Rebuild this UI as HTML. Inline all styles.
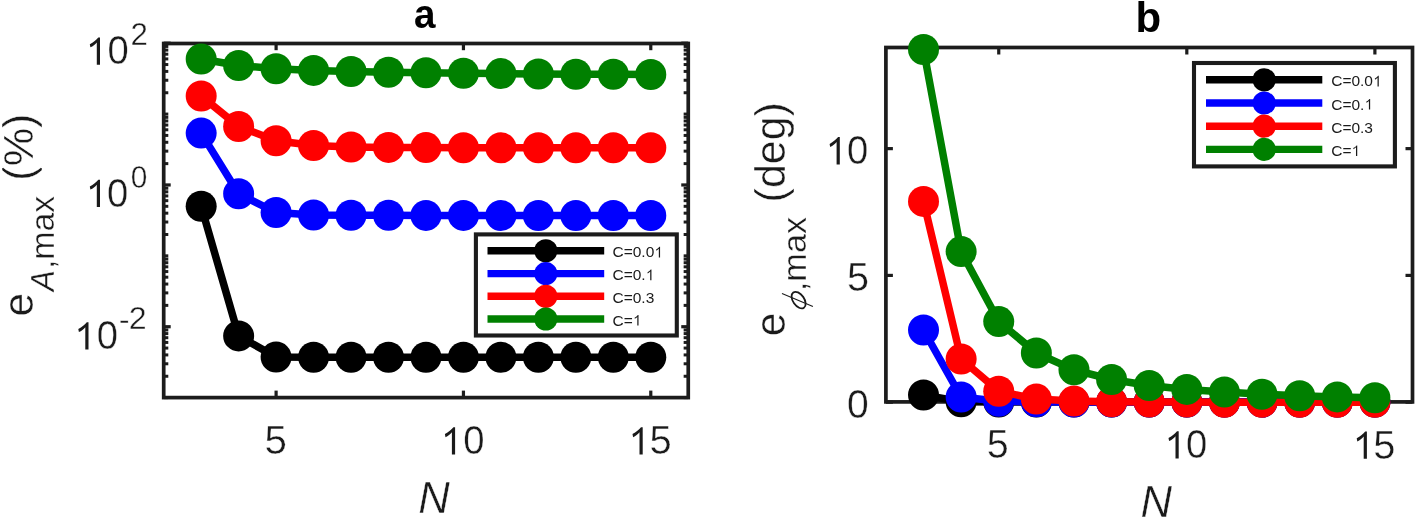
<!DOCTYPE html><html><head><meta charset="utf-8"><style>html,body{margin:0;padding:0;background:#fff;overflow:hidden}svg{display:block;will-change:transform} text.t{stroke:#fff;stroke-width:0.4px}</style></head><body><svg width="1416" height="520" viewBox="0 0 1416 520" font-family="Liberation Sans, sans-serif">
<rect width="1416" height="520" fill="#fff"/>
<line x1="276.10" y1="397.6" x2="276.10" y2="390.6" stroke="#1c1c1c" stroke-width="3.2"/>
<line x1="276.10" y1="43.2" x2="276.10" y2="50.2" stroke="#1c1c1c" stroke-width="3.2"/>
<line x1="463.44" y1="397.6" x2="463.44" y2="390.6" stroke="#1c1c1c" stroke-width="3.2"/>
<line x1="463.44" y1="43.2" x2="463.44" y2="50.2" stroke="#1c1c1c" stroke-width="3.2"/>
<line x1="650.78" y1="397.6" x2="650.78" y2="390.6" stroke="#1c1c1c" stroke-width="3.2"/>
<line x1="650.78" y1="43.2" x2="650.78" y2="50.2" stroke="#1c1c1c" stroke-width="3.2"/>
<line x1="163.7" y1="326.72" x2="170.7" y2="326.72" stroke="#1c1c1c" stroke-width="3.2"/>
<line x1="688.25" y1="326.72" x2="681.25" y2="326.72" stroke="#1c1c1c" stroke-width="3.2"/>
<line x1="163.7" y1="184.96" x2="170.7" y2="184.96" stroke="#1c1c1c" stroke-width="3.2"/>
<line x1="688.25" y1="184.96" x2="681.25" y2="184.96" stroke="#1c1c1c" stroke-width="3.2"/>
<line x1="163.7" y1="43.20" x2="170.7" y2="43.20" stroke="#1c1c1c" stroke-width="3.2"/>
<line x1="688.25" y1="43.20" x2="681.25" y2="43.20" stroke="#1c1c1c" stroke-width="3.2"/>
<line x1="163.7" y1="376.26" x2="168.29999999999998" y2="376.26" stroke="#1c1c1c" stroke-width="3.0"/>
<line x1="688.25" y1="376.26" x2="683.65" y2="376.26" stroke="#1c1c1c" stroke-width="3.0"/>
<line x1="163.7" y1="363.78" x2="168.29999999999998" y2="363.78" stroke="#1c1c1c" stroke-width="3.0"/>
<line x1="688.25" y1="363.78" x2="683.65" y2="363.78" stroke="#1c1c1c" stroke-width="3.0"/>
<line x1="163.7" y1="354.93" x2="168.29999999999998" y2="354.93" stroke="#1c1c1c" stroke-width="3.0"/>
<line x1="688.25" y1="354.93" x2="683.65" y2="354.93" stroke="#1c1c1c" stroke-width="3.0"/>
<line x1="163.7" y1="348.06" x2="168.29999999999998" y2="348.06" stroke="#1c1c1c" stroke-width="3.0"/>
<line x1="688.25" y1="348.06" x2="683.65" y2="348.06" stroke="#1c1c1c" stroke-width="3.0"/>
<line x1="163.7" y1="342.44" x2="168.29999999999998" y2="342.44" stroke="#1c1c1c" stroke-width="3.0"/>
<line x1="688.25" y1="342.44" x2="683.65" y2="342.44" stroke="#1c1c1c" stroke-width="3.0"/>
<line x1="163.7" y1="337.70" x2="168.29999999999998" y2="337.70" stroke="#1c1c1c" stroke-width="3.0"/>
<line x1="688.25" y1="337.70" x2="683.65" y2="337.70" stroke="#1c1c1c" stroke-width="3.0"/>
<line x1="163.7" y1="333.59" x2="168.29999999999998" y2="333.59" stroke="#1c1c1c" stroke-width="3.0"/>
<line x1="688.25" y1="333.59" x2="683.65" y2="333.59" stroke="#1c1c1c" stroke-width="3.0"/>
<line x1="163.7" y1="329.96" x2="168.29999999999998" y2="329.96" stroke="#1c1c1c" stroke-width="3.0"/>
<line x1="688.25" y1="329.96" x2="683.65" y2="329.96" stroke="#1c1c1c" stroke-width="3.0"/>
<line x1="163.7" y1="305.38" x2="168.29999999999998" y2="305.38" stroke="#1c1c1c" stroke-width="3.0"/>
<line x1="688.25" y1="305.38" x2="683.65" y2="305.38" stroke="#1c1c1c" stroke-width="3.0"/>
<line x1="163.7" y1="292.90" x2="168.29999999999998" y2="292.90" stroke="#1c1c1c" stroke-width="3.0"/>
<line x1="688.25" y1="292.90" x2="683.65" y2="292.90" stroke="#1c1c1c" stroke-width="3.0"/>
<line x1="163.7" y1="284.05" x2="168.29999999999998" y2="284.05" stroke="#1c1c1c" stroke-width="3.0"/>
<line x1="688.25" y1="284.05" x2="683.65" y2="284.05" stroke="#1c1c1c" stroke-width="3.0"/>
<line x1="163.7" y1="277.18" x2="168.29999999999998" y2="277.18" stroke="#1c1c1c" stroke-width="3.0"/>
<line x1="688.25" y1="277.18" x2="683.65" y2="277.18" stroke="#1c1c1c" stroke-width="3.0"/>
<line x1="163.7" y1="271.56" x2="168.29999999999998" y2="271.56" stroke="#1c1c1c" stroke-width="3.0"/>
<line x1="688.25" y1="271.56" x2="683.65" y2="271.56" stroke="#1c1c1c" stroke-width="3.0"/>
<line x1="163.7" y1="266.82" x2="168.29999999999998" y2="266.82" stroke="#1c1c1c" stroke-width="3.0"/>
<line x1="688.25" y1="266.82" x2="683.65" y2="266.82" stroke="#1c1c1c" stroke-width="3.0"/>
<line x1="163.7" y1="262.71" x2="168.29999999999998" y2="262.71" stroke="#1c1c1c" stroke-width="3.0"/>
<line x1="688.25" y1="262.71" x2="683.65" y2="262.71" stroke="#1c1c1c" stroke-width="3.0"/>
<line x1="163.7" y1="259.08" x2="168.29999999999998" y2="259.08" stroke="#1c1c1c" stroke-width="3.0"/>
<line x1="688.25" y1="259.08" x2="683.65" y2="259.08" stroke="#1c1c1c" stroke-width="3.0"/>
<line x1="163.7" y1="234.50" x2="168.29999999999998" y2="234.50" stroke="#1c1c1c" stroke-width="3.0"/>
<line x1="688.25" y1="234.50" x2="683.65" y2="234.50" stroke="#1c1c1c" stroke-width="3.0"/>
<line x1="163.7" y1="222.02" x2="168.29999999999998" y2="222.02" stroke="#1c1c1c" stroke-width="3.0"/>
<line x1="688.25" y1="222.02" x2="683.65" y2="222.02" stroke="#1c1c1c" stroke-width="3.0"/>
<line x1="163.7" y1="213.17" x2="168.29999999999998" y2="213.17" stroke="#1c1c1c" stroke-width="3.0"/>
<line x1="688.25" y1="213.17" x2="683.65" y2="213.17" stroke="#1c1c1c" stroke-width="3.0"/>
<line x1="163.7" y1="206.30" x2="168.29999999999998" y2="206.30" stroke="#1c1c1c" stroke-width="3.0"/>
<line x1="688.25" y1="206.30" x2="683.65" y2="206.30" stroke="#1c1c1c" stroke-width="3.0"/>
<line x1="163.7" y1="200.68" x2="168.29999999999998" y2="200.68" stroke="#1c1c1c" stroke-width="3.0"/>
<line x1="688.25" y1="200.68" x2="683.65" y2="200.68" stroke="#1c1c1c" stroke-width="3.0"/>
<line x1="163.7" y1="195.94" x2="168.29999999999998" y2="195.94" stroke="#1c1c1c" stroke-width="3.0"/>
<line x1="688.25" y1="195.94" x2="683.65" y2="195.94" stroke="#1c1c1c" stroke-width="3.0"/>
<line x1="163.7" y1="191.83" x2="168.29999999999998" y2="191.83" stroke="#1c1c1c" stroke-width="3.0"/>
<line x1="688.25" y1="191.83" x2="683.65" y2="191.83" stroke="#1c1c1c" stroke-width="3.0"/>
<line x1="163.7" y1="188.20" x2="168.29999999999998" y2="188.20" stroke="#1c1c1c" stroke-width="3.0"/>
<line x1="688.25" y1="188.20" x2="683.65" y2="188.20" stroke="#1c1c1c" stroke-width="3.0"/>
<line x1="163.7" y1="163.62" x2="168.29999999999998" y2="163.62" stroke="#1c1c1c" stroke-width="3.0"/>
<line x1="688.25" y1="163.62" x2="683.65" y2="163.62" stroke="#1c1c1c" stroke-width="3.0"/>
<line x1="163.7" y1="151.14" x2="168.29999999999998" y2="151.14" stroke="#1c1c1c" stroke-width="3.0"/>
<line x1="688.25" y1="151.14" x2="683.65" y2="151.14" stroke="#1c1c1c" stroke-width="3.0"/>
<line x1="163.7" y1="142.29" x2="168.29999999999998" y2="142.29" stroke="#1c1c1c" stroke-width="3.0"/>
<line x1="688.25" y1="142.29" x2="683.65" y2="142.29" stroke="#1c1c1c" stroke-width="3.0"/>
<line x1="163.7" y1="135.42" x2="168.29999999999998" y2="135.42" stroke="#1c1c1c" stroke-width="3.0"/>
<line x1="688.25" y1="135.42" x2="683.65" y2="135.42" stroke="#1c1c1c" stroke-width="3.0"/>
<line x1="163.7" y1="129.80" x2="168.29999999999998" y2="129.80" stroke="#1c1c1c" stroke-width="3.0"/>
<line x1="688.25" y1="129.80" x2="683.65" y2="129.80" stroke="#1c1c1c" stroke-width="3.0"/>
<line x1="163.7" y1="125.06" x2="168.29999999999998" y2="125.06" stroke="#1c1c1c" stroke-width="3.0"/>
<line x1="688.25" y1="125.06" x2="683.65" y2="125.06" stroke="#1c1c1c" stroke-width="3.0"/>
<line x1="163.7" y1="120.95" x2="168.29999999999998" y2="120.95" stroke="#1c1c1c" stroke-width="3.0"/>
<line x1="688.25" y1="120.95" x2="683.65" y2="120.95" stroke="#1c1c1c" stroke-width="3.0"/>
<line x1="163.7" y1="117.32" x2="168.29999999999998" y2="117.32" stroke="#1c1c1c" stroke-width="3.0"/>
<line x1="688.25" y1="117.32" x2="683.65" y2="117.32" stroke="#1c1c1c" stroke-width="3.0"/>
<line x1="163.7" y1="92.74" x2="168.29999999999998" y2="92.74" stroke="#1c1c1c" stroke-width="3.0"/>
<line x1="688.25" y1="92.74" x2="683.65" y2="92.74" stroke="#1c1c1c" stroke-width="3.0"/>
<line x1="163.7" y1="80.26" x2="168.29999999999998" y2="80.26" stroke="#1c1c1c" stroke-width="3.0"/>
<line x1="688.25" y1="80.26" x2="683.65" y2="80.26" stroke="#1c1c1c" stroke-width="3.0"/>
<line x1="163.7" y1="71.41" x2="168.29999999999998" y2="71.41" stroke="#1c1c1c" stroke-width="3.0"/>
<line x1="688.25" y1="71.41" x2="683.65" y2="71.41" stroke="#1c1c1c" stroke-width="3.0"/>
<line x1="163.7" y1="64.54" x2="168.29999999999998" y2="64.54" stroke="#1c1c1c" stroke-width="3.0"/>
<line x1="688.25" y1="64.54" x2="683.65" y2="64.54" stroke="#1c1c1c" stroke-width="3.0"/>
<line x1="163.7" y1="58.92" x2="168.29999999999998" y2="58.92" stroke="#1c1c1c" stroke-width="3.0"/>
<line x1="688.25" y1="58.92" x2="683.65" y2="58.92" stroke="#1c1c1c" stroke-width="3.0"/>
<line x1="163.7" y1="54.18" x2="168.29999999999998" y2="54.18" stroke="#1c1c1c" stroke-width="3.0"/>
<line x1="688.25" y1="54.18" x2="683.65" y2="54.18" stroke="#1c1c1c" stroke-width="3.0"/>
<line x1="163.7" y1="50.07" x2="168.29999999999998" y2="50.07" stroke="#1c1c1c" stroke-width="3.0"/>
<line x1="688.25" y1="50.07" x2="683.65" y2="50.07" stroke="#1c1c1c" stroke-width="3.0"/>
<line x1="163.7" y1="46.44" x2="168.29999999999998" y2="46.44" stroke="#1c1c1c" stroke-width="3.0"/>
<line x1="688.25" y1="46.44" x2="683.65" y2="46.44" stroke="#1c1c1c" stroke-width="3.0"/>
<line x1="163.7" y1="397.60" x2="168.29999999999998" y2="397.60" stroke="#1c1c1c" stroke-width="3.0"/>
<line x1="688.25" y1="397.60" x2="683.65" y2="397.60" stroke="#1c1c1c" stroke-width="3.0"/>
<line x1="163.7" y1="255.84" x2="168.29999999999998" y2="255.84" stroke="#1c1c1c" stroke-width="3.0"/>
<line x1="688.25" y1="255.84" x2="683.65" y2="255.84" stroke="#1c1c1c" stroke-width="3.0"/>
<line x1="163.7" y1="114.08" x2="168.29999999999998" y2="114.08" stroke="#1c1c1c" stroke-width="3.0"/>
<line x1="688.25" y1="114.08" x2="683.65" y2="114.08" stroke="#1c1c1c" stroke-width="3.0"/>
<rect x="163.7" y="43.5" width="524.55" height="354.10" fill="none" stroke="#1c1c1c" stroke-width="3.7"/>
<polyline points="201.17,206.30 238.64,335.90 276.10,357.10 313.57,357.30 351.04,357.30 388.51,357.30 425.97,357.30 463.44,357.30 500.91,357.30 538.38,357.30 575.85,357.30 613.31,357.30 650.78,357.30" fill="none" stroke="#000000" stroke-width="7.5" stroke-linejoin="round"/>
<circle cx="201.17" cy="206.30" r="15.5" fill="#000000"/>
<circle cx="238.64" cy="335.90" r="15.5" fill="#000000"/>
<circle cx="276.10" cy="357.10" r="15.5" fill="#000000"/>
<circle cx="313.57" cy="357.30" r="15.5" fill="#000000"/>
<circle cx="351.04" cy="357.30" r="15.5" fill="#000000"/>
<circle cx="388.51" cy="357.30" r="15.5" fill="#000000"/>
<circle cx="425.97" cy="357.30" r="15.5" fill="#000000"/>
<circle cx="463.44" cy="357.30" r="15.5" fill="#000000"/>
<circle cx="500.91" cy="357.30" r="15.5" fill="#000000"/>
<circle cx="538.38" cy="357.30" r="15.5" fill="#000000"/>
<circle cx="575.85" cy="357.30" r="15.5" fill="#000000"/>
<circle cx="613.31" cy="357.30" r="15.5" fill="#000000"/>
<circle cx="650.78" cy="357.30" r="15.5" fill="#000000"/>
<polyline points="201.17,133.10 238.64,193.75 276.10,212.50 313.57,215.00 351.04,215.20 388.51,215.30 425.97,215.40 463.44,215.40 500.91,215.50 538.38,215.50 575.85,215.50 613.31,215.50 650.78,215.50" fill="none" stroke="#0000ff" stroke-width="7.5" stroke-linejoin="round"/>
<circle cx="201.17" cy="133.10" r="15.5" fill="#0000ff"/>
<circle cx="238.64" cy="193.75" r="15.5" fill="#0000ff"/>
<circle cx="276.10" cy="212.50" r="15.5" fill="#0000ff"/>
<circle cx="313.57" cy="215.00" r="15.5" fill="#0000ff"/>
<circle cx="351.04" cy="215.20" r="15.5" fill="#0000ff"/>
<circle cx="388.51" cy="215.30" r="15.5" fill="#0000ff"/>
<circle cx="425.97" cy="215.40" r="15.5" fill="#0000ff"/>
<circle cx="463.44" cy="215.40" r="15.5" fill="#0000ff"/>
<circle cx="500.91" cy="215.50" r="15.5" fill="#0000ff"/>
<circle cx="538.38" cy="215.50" r="15.5" fill="#0000ff"/>
<circle cx="575.85" cy="215.50" r="15.5" fill="#0000ff"/>
<circle cx="613.31" cy="215.50" r="15.5" fill="#0000ff"/>
<circle cx="650.78" cy="215.50" r="15.5" fill="#0000ff"/>
<polyline points="201.17,96.00 238.64,126.50 276.10,140.70 313.57,145.50 351.04,147.00 388.51,147.40 425.97,147.60 463.44,147.70 500.91,147.80 538.38,147.80 575.85,147.80 613.31,147.80 650.78,147.80" fill="none" stroke="#ff0000" stroke-width="7.5" stroke-linejoin="round"/>
<circle cx="201.17" cy="96.00" r="15.5" fill="#ff0000"/>
<circle cx="238.64" cy="126.50" r="15.5" fill="#ff0000"/>
<circle cx="276.10" cy="140.70" r="15.5" fill="#ff0000"/>
<circle cx="313.57" cy="145.50" r="15.5" fill="#ff0000"/>
<circle cx="351.04" cy="147.00" r="15.5" fill="#ff0000"/>
<circle cx="388.51" cy="147.40" r="15.5" fill="#ff0000"/>
<circle cx="425.97" cy="147.60" r="15.5" fill="#ff0000"/>
<circle cx="463.44" cy="147.70" r="15.5" fill="#ff0000"/>
<circle cx="500.91" cy="147.80" r="15.5" fill="#ff0000"/>
<circle cx="538.38" cy="147.80" r="15.5" fill="#ff0000"/>
<circle cx="575.85" cy="147.80" r="15.5" fill="#ff0000"/>
<circle cx="613.31" cy="147.80" r="15.5" fill="#ff0000"/>
<circle cx="650.78" cy="147.80" r="15.5" fill="#ff0000"/>
<polyline points="201.17,59.00 238.64,65.50 276.10,68.70 313.57,70.40 351.04,71.50 388.51,72.30 425.97,72.80 463.44,73.20 500.91,73.60 538.38,74.00 575.85,74.20 613.31,74.30 650.78,74.50" fill="none" stroke="#008000" stroke-width="7.5" stroke-linejoin="round"/>
<circle cx="201.17" cy="59.00" r="15.5" fill="#008000"/>
<circle cx="238.64" cy="65.50" r="15.5" fill="#008000"/>
<circle cx="276.10" cy="68.70" r="15.5" fill="#008000"/>
<circle cx="313.57" cy="70.40" r="15.5" fill="#008000"/>
<circle cx="351.04" cy="71.50" r="15.5" fill="#008000"/>
<circle cx="388.51" cy="72.30" r="15.5" fill="#008000"/>
<circle cx="425.97" cy="72.80" r="15.5" fill="#008000"/>
<circle cx="463.44" cy="73.20" r="15.5" fill="#008000"/>
<circle cx="500.91" cy="73.60" r="15.5" fill="#008000"/>
<circle cx="538.38" cy="74.00" r="15.5" fill="#008000"/>
<circle cx="575.85" cy="74.20" r="15.5" fill="#008000"/>
<circle cx="613.31" cy="74.30" r="15.5" fill="#008000"/>
<circle cx="650.78" cy="74.50" r="15.5" fill="#008000"/>
<rect x="475.9" y="234.4" width="200.90" height="101.10" fill="#fff" stroke="#1c1c1c" stroke-width="4.1"/>
<line x1="487.5" y1="250.8" x2="604.2" y2="250.8" stroke="#000000" stroke-width="7.4"/>
<circle cx="545.8" cy="250.8" r="11.6" fill="#000000"/>
<text x="612.50" y="257.40" font-size="15.5" fill="#1a1a1a">C=0.0</text>
<path d="M0,0 L0,-27.3 L-1.7,-27.3 C-3.6,-24.9 -6.6,-22.4 -10.2,-20.5 L-9.6,-17.4 C-7.0,-18.6 -4.9,-20.2 -3.2,-22.3 L-3.2,0 Z" transform="translate(660.07,257.40) scale(0.3875)" fill="#1a1a1a"/>
<line x1="487.5" y1="273.6" x2="604.2" y2="273.6" stroke="#0000ff" stroke-width="7.4"/>
<circle cx="545.8" cy="273.6" r="11.6" fill="#0000ff"/>
<text x="612.50" y="280.20" font-size="15.5" fill="#1a1a1a">C=0.</text>
<path d="M0,0 L0,-27.3 L-1.7,-27.3 C-3.6,-24.9 -6.6,-22.4 -10.2,-20.5 L-9.6,-17.4 C-7.0,-18.6 -4.9,-20.2 -3.2,-22.3 L-3.2,0 Z" transform="translate(651.45,280.20) scale(0.3875)" fill="#1a1a1a"/>
<line x1="487.5" y1="296.3" x2="604.2" y2="296.3" stroke="#ff0000" stroke-width="7.4"/>
<circle cx="545.8" cy="296.3" r="11.6" fill="#ff0000"/>
<text x="612.50" y="302.90" font-size="15.5" fill="#1a1a1a">C=0.3</text>
<line x1="487.5" y1="319.0" x2="604.2" y2="319.0" stroke="#008000" stroke-width="7.4"/>
<circle cx="545.8" cy="319.0" r="11.6" fill="#008000"/>
<text x="612.50" y="325.60" font-size="15.5" fill="#1a1a1a">C=</text>
<path d="M0,0 L0,-27.3 L-1.7,-27.3 C-3.6,-24.9 -6.6,-22.4 -10.2,-20.5 L-9.6,-17.4 C-7.0,-18.6 -4.9,-20.2 -3.2,-22.3 L-3.2,0 Z" transform="translate(638.53,325.60) scale(0.3875)" fill="#1a1a1a"/>
<line x1="998.74" y1="401.9" x2="998.74" y2="394.9" stroke="#1c1c1c" stroke-width="3.2"/>
<line x1="998.74" y1="47.5" x2="998.74" y2="54.5" stroke="#1c1c1c" stroke-width="3.2"/>
<line x1="1186.81" y1="401.9" x2="1186.81" y2="394.9" stroke="#1c1c1c" stroke-width="3.2"/>
<line x1="1186.81" y1="47.5" x2="1186.81" y2="54.5" stroke="#1c1c1c" stroke-width="3.2"/>
<line x1="1374.89" y1="401.9" x2="1374.89" y2="394.9" stroke="#1c1c1c" stroke-width="3.2"/>
<line x1="1374.89" y1="47.5" x2="1374.89" y2="54.5" stroke="#1c1c1c" stroke-width="3.2"/>
<line x1="885.9" y1="402.20" x2="892.9" y2="402.20" stroke="#1c1c1c" stroke-width="3.2"/>
<line x1="1412.5" y1="402.20" x2="1405.5" y2="402.20" stroke="#1c1c1c" stroke-width="3.2"/>
<line x1="885.9" y1="275.41" x2="892.9" y2="275.41" stroke="#1c1c1c" stroke-width="3.2"/>
<line x1="1412.5" y1="275.41" x2="1405.5" y2="275.41" stroke="#1c1c1c" stroke-width="3.2"/>
<line x1="885.9" y1="148.63" x2="892.9" y2="148.63" stroke="#1c1c1c" stroke-width="3.2"/>
<line x1="1412.5" y1="148.63" x2="1405.5" y2="148.63" stroke="#1c1c1c" stroke-width="3.2"/>
<rect x="885.9" y="47.5" width="526.60" height="354.40" fill="none" stroke="#1c1c1c" stroke-width="3.7"/>
<polyline points="923.51,395.00 961.13,401.80 998.74,402.00 1036.36,402.10 1073.97,402.10 1111.59,402.10 1149.20,402.10 1186.81,402.10 1224.43,402.10 1262.04,402.10 1299.66,402.10 1337.27,402.10 1374.89,402.10" fill="none" stroke="#000000" stroke-width="7.5" stroke-linejoin="round"/>
<circle cx="923.51" cy="395.00" r="15.5" fill="#000000"/>
<circle cx="961.13" cy="401.80" r="15.5" fill="#000000"/>
<circle cx="998.74" cy="402.00" r="15.5" fill="#000000"/>
<circle cx="1036.36" cy="402.10" r="15.5" fill="#000000"/>
<circle cx="1073.97" cy="402.10" r="15.5" fill="#000000"/>
<circle cx="1111.59" cy="402.10" r="15.5" fill="#000000"/>
<circle cx="1149.20" cy="402.10" r="15.5" fill="#000000"/>
<circle cx="1186.81" cy="402.10" r="15.5" fill="#000000"/>
<circle cx="1224.43" cy="402.10" r="15.5" fill="#000000"/>
<circle cx="1262.04" cy="402.10" r="15.5" fill="#000000"/>
<circle cx="1299.66" cy="402.10" r="15.5" fill="#000000"/>
<circle cx="1337.27" cy="402.10" r="15.5" fill="#000000"/>
<circle cx="1374.89" cy="402.10" r="15.5" fill="#000000"/>
<polyline points="923.51,330.00 961.13,397.00 998.74,401.30 1036.36,401.80 1073.97,402.10 1111.59,402.10 1149.20,402.10 1186.81,402.10 1224.43,402.10 1262.04,402.10 1299.66,402.10 1337.27,402.10 1374.89,402.10" fill="none" stroke="#0000ff" stroke-width="7.5" stroke-linejoin="round"/>
<circle cx="923.51" cy="330.00" r="15.5" fill="#0000ff"/>
<circle cx="961.13" cy="397.00" r="15.5" fill="#0000ff"/>
<circle cx="998.74" cy="401.30" r="15.5" fill="#0000ff"/>
<circle cx="1036.36" cy="401.80" r="15.5" fill="#0000ff"/>
<circle cx="1073.97" cy="402.10" r="15.5" fill="#0000ff"/>
<circle cx="1111.59" cy="402.10" r="15.5" fill="#0000ff"/>
<circle cx="1149.20" cy="402.10" r="15.5" fill="#0000ff"/>
<circle cx="1186.81" cy="402.10" r="15.5" fill="#0000ff"/>
<circle cx="1224.43" cy="402.10" r="15.5" fill="#0000ff"/>
<circle cx="1262.04" cy="402.10" r="15.5" fill="#0000ff"/>
<circle cx="1299.66" cy="402.10" r="15.5" fill="#0000ff"/>
<circle cx="1337.27" cy="402.10" r="15.5" fill="#0000ff"/>
<circle cx="1374.89" cy="402.10" r="15.5" fill="#0000ff"/>
<polyline points="923.51,201.40 961.13,359.00 998.74,391.20 1036.36,399.10 1073.97,401.10 1111.59,401.70 1149.20,402.00 1186.81,402.10 1224.43,402.20 1262.04,402.20 1299.66,402.20 1337.27,402.20 1374.89,402.20" fill="none" stroke="#ff0000" stroke-width="7.5" stroke-linejoin="round"/>
<circle cx="923.51" cy="201.40" r="15.5" fill="#ff0000"/>
<circle cx="961.13" cy="359.00" r="15.5" fill="#ff0000"/>
<circle cx="998.74" cy="391.20" r="15.5" fill="#ff0000"/>
<circle cx="1036.36" cy="399.10" r="15.5" fill="#ff0000"/>
<circle cx="1073.97" cy="401.10" r="15.5" fill="#ff0000"/>
<circle cx="1111.59" cy="401.70" r="15.5" fill="#ff0000"/>
<circle cx="1149.20" cy="402.00" r="15.5" fill="#ff0000"/>
<circle cx="1186.81" cy="402.10" r="15.5" fill="#ff0000"/>
<circle cx="1224.43" cy="402.20" r="15.5" fill="#ff0000"/>
<circle cx="1262.04" cy="402.20" r="15.5" fill="#ff0000"/>
<circle cx="1299.66" cy="402.20" r="15.5" fill="#ff0000"/>
<circle cx="1337.27" cy="402.20" r="15.5" fill="#ff0000"/>
<circle cx="1374.89" cy="402.20" r="15.5" fill="#ff0000"/>
<polyline points="923.51,49.50 961.13,251.60 998.74,321.60 1036.36,353.00 1073.97,369.80 1111.59,379.50 1149.20,385.50 1186.81,389.40 1224.43,392.10 1262.04,394.20 1299.66,395.80 1337.27,396.90 1374.89,397.80" fill="none" stroke="#008000" stroke-width="7.5" stroke-linejoin="round"/>
<circle cx="923.51" cy="49.50" r="15.5" fill="#008000"/>
<circle cx="961.13" cy="251.60" r="15.5" fill="#008000"/>
<circle cx="998.74" cy="321.60" r="15.5" fill="#008000"/>
<circle cx="1036.36" cy="353.00" r="15.5" fill="#008000"/>
<circle cx="1073.97" cy="369.80" r="15.5" fill="#008000"/>
<circle cx="1111.59" cy="379.50" r="15.5" fill="#008000"/>
<circle cx="1149.20" cy="385.50" r="15.5" fill="#008000"/>
<circle cx="1186.81" cy="389.40" r="15.5" fill="#008000"/>
<circle cx="1224.43" cy="392.10" r="15.5" fill="#008000"/>
<circle cx="1262.04" cy="394.20" r="15.5" fill="#008000"/>
<circle cx="1299.66" cy="395.80" r="15.5" fill="#008000"/>
<circle cx="1337.27" cy="396.90" r="15.5" fill="#008000"/>
<circle cx="1374.89" cy="397.80" r="15.5" fill="#008000"/>
<rect x="1194.0" y="63.0" width="200.90" height="103.40" fill="#fff" stroke="#1c1c1c" stroke-width="4.1"/>
<line x1="1206.0" y1="79.8" x2="1322.3" y2="79.8" stroke="#000000" stroke-width="7.4"/>
<circle cx="1264.2" cy="79.8" r="11.6" fill="#000000"/>
<text x="1331.20" y="86.40" font-size="15.5" fill="#1a1a1a">C=0.0</text>
<path d="M0,0 L0,-27.3 L-1.7,-27.3 C-3.6,-24.9 -6.6,-22.4 -10.2,-20.5 L-9.6,-17.4 C-7.0,-18.6 -4.9,-20.2 -3.2,-22.3 L-3.2,0 Z" transform="translate(1378.77,86.40) scale(0.3875)" fill="#1a1a1a"/>
<line x1="1206.0" y1="103.0" x2="1322.3" y2="103.0" stroke="#0000ff" stroke-width="7.4"/>
<circle cx="1264.2" cy="103.0" r="11.6" fill="#0000ff"/>
<text x="1331.20" y="109.60" font-size="15.5" fill="#1a1a1a">C=0.</text>
<path d="M0,0 L0,-27.3 L-1.7,-27.3 C-3.6,-24.9 -6.6,-22.4 -10.2,-20.5 L-9.6,-17.4 C-7.0,-18.6 -4.9,-20.2 -3.2,-22.3 L-3.2,0 Z" transform="translate(1370.15,109.60) scale(0.3875)" fill="#1a1a1a"/>
<line x1="1206.0" y1="126.2" x2="1322.3" y2="126.2" stroke="#ff0000" stroke-width="7.4"/>
<circle cx="1264.2" cy="126.2" r="11.6" fill="#ff0000"/>
<text x="1331.20" y="132.80" font-size="15.5" fill="#1a1a1a">C=0.3</text>
<line x1="1206.0" y1="149.4" x2="1322.3" y2="149.4" stroke="#008000" stroke-width="7.4"/>
<circle cx="1264.2" cy="149.4" r="11.6" fill="#008000"/>
<text x="1331.20" y="156.00" font-size="15.5" fill="#1a1a1a">C=</text>
<path d="M0,0 L0,-27.3 L-1.7,-27.3 C-3.6,-24.9 -6.6,-22.4 -10.2,-20.5 L-9.6,-17.4 C-7.0,-18.6 -4.9,-20.2 -3.2,-22.3 L-3.2,0 Z" transform="translate(1357.23,156.00) scale(0.3875)" fill="#1a1a1a"/>
<text transform="translate(413.92,27.65) scale(0.9425,1)" font-size="41" font-weight="bold" fill="#000">a</text>
<text transform="translate(1135.55,31.70) scale(1.0000,1)" font-size="42" font-weight="bold" fill="#000">b</text>
<path d="M0,0 L0,-27.3 L-1.7,-27.3 C-3.6,-24.9 -6.6,-22.4 -10.2,-20.5 L-9.6,-17.4 C-7.0,-18.6 -4.9,-20.2 -3.2,-22.3 L-3.2,0 Z" transform="translate(100.00,64.70)" fill="#1a1a1a"/>
<text class="t" transform="translate(107.47,64.45) scale(0.9558,1)" font-size="40" fill="#1a1a1a">0</text>
<text class="t" transform="translate(130.58,44.80) scale(1.0105,1)" font-size="31" fill="#1a1a1a">2</text>
<path d="M0,0 L0,-27.3 L-1.7,-27.3 C-3.6,-24.9 -6.6,-22.4 -10.2,-20.5 L-9.6,-17.4 C-7.0,-18.6 -4.9,-20.2 -3.2,-22.3 L-3.2,0 Z" transform="translate(100.00,207.00)" fill="#1a1a1a"/>
<text class="t" transform="translate(106.97,206.75) scale(0.9558,1)" font-size="40" fill="#1a1a1a">0</text>
<text class="t" transform="translate(130.80,187.55) scale(0.9627,1)" font-size="31" fill="#1a1a1a">0</text>
<path d="M0,0 L0,-27.3 L-1.7,-27.3 C-3.6,-24.9 -6.6,-22.4 -10.2,-20.5 L-9.6,-17.4 C-7.0,-18.6 -4.9,-20.2 -3.2,-22.3 L-3.2,0 Z" transform="translate(88.50,349.50)" fill="#1a1a1a"/>
<text class="t" transform="translate(96.77,349.25) scale(0.9558,1)" font-size="40" fill="#1a1a1a">0</text>
<text class="t" transform="translate(118.72,329.80) scale(1.0533,1)" font-size="31" fill="#1a1a1a">-</text>
<text class="t" transform="translate(128.74,329.40) scale(1.0386,1)" font-size="31" fill="#1a1a1a">2</text>
<text class="t" transform="translate(264.54,454.35) scale(1.0080,1)" font-size="40" fill="#1a1a1a">5</text>
<path d="M0,0 L0,-27.3 L-1.7,-27.3 C-3.6,-24.9 -6.6,-22.4 -10.2,-20.5 L-9.6,-17.4 C-7.0,-18.6 -4.9,-20.2 -3.2,-22.3 L-3.2,0 Z" transform="translate(455.10,454.60)" fill="#1a1a1a"/>
<text class="t" transform="translate(463.27,454.35) scale(0.9558,1)" font-size="40" fill="#1a1a1a">0</text>
<path d="M0,0 L0,-27.3 L-1.7,-27.3 C-3.6,-24.9 -6.6,-22.4 -10.2,-20.5 L-9.6,-17.4 C-7.0,-18.6 -4.9,-20.2 -3.2,-22.3 L-3.2,0 Z" transform="translate(642.70,454.60)" fill="#1a1a1a"/>
<text class="t" transform="translate(649.55,454.35) scale(0.9973,1)" font-size="40" fill="#1a1a1a">5</text>
<text class="t" transform="translate(418.31,513.10) scale(0.9917,1)" font-size="44" font-style="italic" fill="#1a1a1a">N</text>
<path d="M0,0 L0,-27.3 L-1.7,-27.3 C-3.6,-24.9 -6.6,-22.4 -10.2,-20.5 L-9.6,-17.4 C-7.0,-18.6 -4.9,-20.2 -3.2,-22.3 L-3.2,0 Z" transform="translate(839.80,164.40)" fill="#1a1a1a"/>
<text class="t" transform="translate(847.07,164.15) scale(0.9558,1)" font-size="40" fill="#1a1a1a">0</text>
<text class="t" transform="translate(846.96,291.25) scale(0.9920,1)" font-size="40" fill="#1a1a1a">5</text>
<text class="t" transform="translate(847.04,417.75) scale(0.9766,1)" font-size="40" fill="#1a1a1a">0</text>
<text class="t" transform="translate(986.87,457.65) scale(0.9867,1)" font-size="40" fill="#1a1a1a">5</text>
<path d="M0,0 L0,-27.3 L-1.7,-27.3 C-3.6,-24.9 -6.6,-22.4 -10.2,-20.5 L-9.6,-17.4 C-7.0,-18.6 -4.9,-20.2 -3.2,-22.3 L-3.2,0 Z" transform="translate(1178.70,458.50)" fill="#1a1a1a"/>
<text class="t" transform="translate(1185.97,458.25) scale(0.9558,1)" font-size="40" fill="#1a1a1a">0</text>
<path d="M0,0 L0,-27.3 L-1.7,-27.3 C-3.6,-24.9 -6.6,-22.4 -10.2,-20.5 L-9.6,-17.4 C-7.0,-18.6 -4.9,-20.2 -3.2,-22.3 L-3.2,0 Z" transform="translate(1366.90,458.80)" fill="#1a1a1a"/>
<text class="t" transform="translate(1373.25,458.55) scale(0.9973,1)" font-size="40" fill="#1a1a1a">5</text>
<text class="t" transform="translate(1140.41,517.10) scale(0.9917,1)" font-size="44" font-style="italic" fill="#1a1a1a">N</text>
<text class="t" transform="translate(33.00,316.55) rotate(-90) scale(1.0000,1)" font-size="42.4" fill="#1a1a1a">e</text>
<text class="t" transform="translate(54.10,291.16) rotate(-90) scale(0.9609,1)" font-size="33" font-style="italic" fill="#1a1a1a">A</text>
<text class="t" transform="translate(53.90,269.02) rotate(-90) scale(1.0403,1)" font-size="32.5" fill="#1a1a1a">,max</text>
<text class="t" transform="translate(33.00,180.65) rotate(-90) scale(1.0182,1)" font-size="42.4" fill="#1a1a1a">(%)</text>
<text class="t" transform="translate(784.60,336.35) rotate(-90) scale(1.0000,1)" font-size="42.4" fill="#1a1a1a">e</text>
<ellipse cx="798.6" cy="300.1" rx="9.3" ry="5.6" transform="rotate(55 798.6 300.1)" fill="none" stroke="#1a1a1a" stroke-width="1.8"/>
<line x1="782.0" y1="293.4" x2="812.9" y2="306.6" stroke="#1a1a1a" stroke-width="1.1"/>
<text class="t" transform="translate(806.00,291.17) rotate(-90) scale(1.0552,1)" font-size="32.5" fill="#1a1a1a">,max</text>
<text class="t" transform="translate(784.60,202.39) rotate(-90) scale(1.0128,1)" font-size="42.4" fill="#1a1a1a">(deg)</text>
</svg></body></html>
